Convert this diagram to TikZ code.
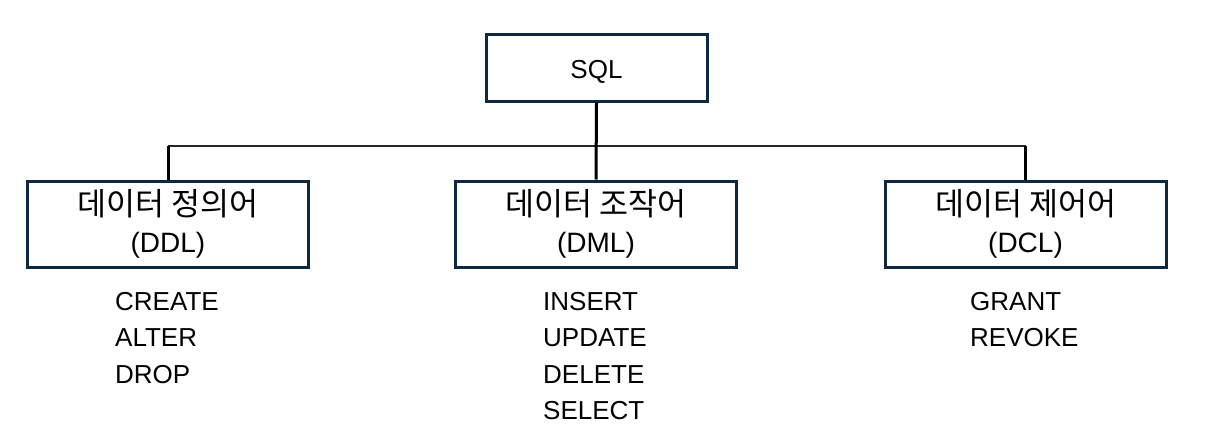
\documentclass[tikz,border=0pt]{standalone}
\usepackage{fontspec}
\setmainfont{Liberation Sans}
\newfontfamily\kr{Noto Sans CJK KR}
\definecolor{boxc}{HTML}{0E2841}
\begin{document}
\begin{tikzpicture}[x=1pt,y=-1pt,
  box/.style={draw=boxc,line width=3pt,minimum width=281pt,minimum height=86pt,inner sep=0pt},
  conn/.style={line width=3pt,black},
  hconn/.style={line width=2.4pt,black!85},
  boxtxt/.style={anchor=base,inner sep=0pt,font=\fontsize{28}{28}\selectfont},
  krtxt/.style={anchor=base,inner sep=0pt,font=\kr\fontsize{31.5}{31.5}\selectfont},
  item/.style={anchor=base west,inner sep=0pt,font=\fontsize{26}{26}\selectfont}]
\useasboundingbox (0,0) rectangle (1206,444);
% boxes
\node[box,minimum width=221pt,minimum height=66pt] (sql) at (596.5,68) {};
\node[anchor=base,inner sep=0pt,font=\fontsize{26}{26}\selectfont] (sqlt) at (596.5,78) {SQL};
\node[box] (ddl) at (168,224) {};
\node[box] (dml) at (596,224) {};
\node[box] (dcl) at (1025.5,224) {};
\node[krtxt] (ddlk) at (168,215) {데이터 정의어};
\node[boxtxt] (ddll) at (168,252) {(DDL)};
\node[krtxt] (dmlk) at (596,215) {데이터 조작어};
\node[boxtxt] (dmll) at (596,252) {(DML)};
\node[krtxt] (dclk) at (1025.5,215) {데이터 제어어};
\node[boxtxt] (dcll) at (1025.5,252) {(DCL)};
% connectors
\coordinate (j) at (596.5,146);
\draw[hconn] (ddl.north |- j) -- (dcl.north |- j);
\draw[conn] (sql.south) -- (dml.north);
\draw[conn] (ddl.north |- j) -- (ddl.north);
\draw[conn] (dcl.north |- j) -- (dcl.north);
% lists
\node[item] (c1) at (115,310) {CREATE};
\node[item] (c2) at (115,346.5) {ALTER};
\node[item] (c3) at (115,383) {DROP};
\node[item] (m1) at (543,310) {INSERT};
\node[item] (m2) at (543,346.5) {UPDATE};
\node[item] (m3) at (543,383) {DELETE};
\node[item] (m4) at (543,419.5) {SELECT};
\node[item] (r1) at (970,310) {GRANT};
\node[item] (r2) at (970,346.5) {REVOKE};
\end{tikzpicture}
\end{document}
